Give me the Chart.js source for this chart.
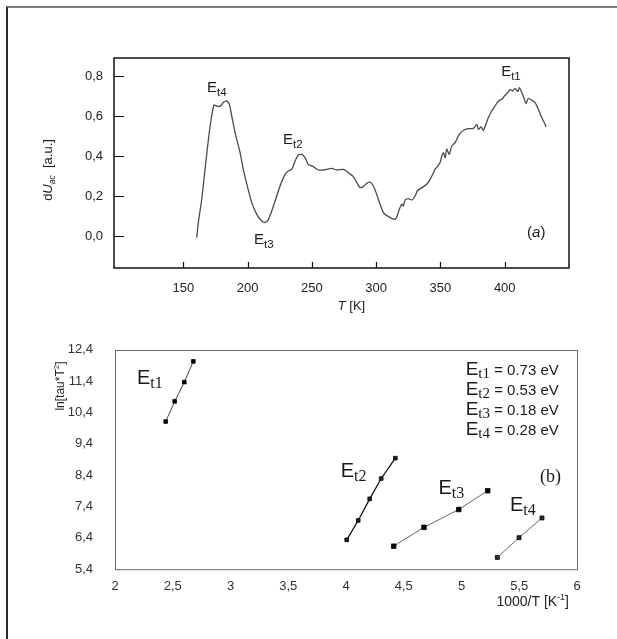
<!DOCTYPE html>
<html><head><meta charset="utf-8">
<script src="https://cdn.jsdelivr.net/npm/chart.js@4.4.1/dist/chart.umd.min.js"></script>
<style>
html,body{margin:0;padding:0;background:#fff;}
#wrap{position:relative;width:617px;height:639px;overflow:hidden;background:#fff;}
#frame{position:absolute;left:6px;top:6px;width:640px;height:660px;border-top:2px solid #7a7a7a;border-left:2px solid #2a2a2a;box-sizing:border-box;}
#ca{position:absolute;left:0;top:0;}
#cb{position:absolute;left:0;top:320px;}
</style></head>
<body><div id="wrap"><div id="frame"></div>
<canvas id="ca" width="617" height="320"></canvas>
<canvas id="cb" width="617" height="319"></canvas></div>
<script>
// ---------- (a) data ----------
const tempK = [160.4,161.6,164.2,166.8,169.4,172.0,173.8,175.9,178.5,181.1,183.7,185.7,187.6,190.2,194.1,196.6,199.7,203.2,207.1,210.9,213.5,216.1,218.7,222.6,225.2,229.1,231.6,234.3,236.9,239.4,242.1,244.6,247.2,251.1,255.0,258.9,265.4,269.3,274.4,278.3,282.2,284.9,287.4,290.0,292.7,295.2,297.8,300.4,303.0,305.6,309.5,314.7,316.5,318.0,319.9,321.1,322.5,325.0,327.7,330.2,332.0,335.5,339.3,341.9,344.0,345.8,347.6,349.7,351.0,352.3,353.6,354.9,356.9,358.8,361.4,363.9,365.8,368.4,371.7,375.6,378.3,379.5,381.6,383.4,385.3,387.3,389.9,392.5,395.1,397.7,399.7,402.4,404.2,406.0,408.1,410.2,411.4,413.3,415.3,416.6,418.4,421.1,423.6,426.2,428.8,431.4,432.2];
const dUac = [-0.008,0.067,0.18,0.33,0.48,0.60,0.655,0.65,0.648,0.667,0.675,0.66,0.60,0.517,0.417,0.333,0.25,0.167,0.108,0.075,0.067,0.083,0.125,0.20,0.25,0.308,0.325,0.333,0.375,0.405,0.408,0.392,0.358,0.347,0.33,0.33,0.338,0.33,0.333,0.317,0.297,0.267,0.242,0.247,0.263,0.27,0.25,0.208,0.158,0.117,0.097,0.0835,0.1035,0.1335,0.1585,0.15,0.18,0.187,0.18,0.20,0.225,0.242,0.2585,0.2835,0.3085,0.3335,0.347,0.367,0.40,0.417,0.392,0.4335,0.4085,0.45,0.467,0.50,0.517,0.53,0.537,0.5385,0.5585,0.5335,0.545,0.5285,0.5585,0.592,0.625,0.65,0.675,0.6835,0.70,0.717,0.7335,0.725,0.7385,0.722,0.742,0.717,0.6835,0.662,0.6885,0.6785,0.667,0.6335,0.592,0.5585,0.545];
const xTicksA = [150,200,250,300,350,400];
const yTicksA = [0,0.2,0.4,0.6,0.8];
const peakNamesA = ['t4','t2','t3','t1'];
const peakTA = [168.4,227.5,205,397.2];
const peakVA = [0.718,0.458,-0.042,0.80];

// ---------- (b) data ----------
const invT_Et1 = [2.439,2.517,2.600,2.678];
const ln_Et1   = [10.11,10.755,11.37,12.03];
const invT_Et2 = [4.006,4.106,4.205,4.305,4.427];
const ln_Et2   = [6.33,6.95,7.64,8.29,8.94];
const invT_Et3 = [4.413,4.675,4.976,5.227];
const ln_Et3   = [6.13,6.73,7.30,7.90];
const invT_Et4 = [5.310,5.498,5.697];
const ln_Et4   = [5.77,6.40,7.03];
const xTicksB = [2,2.5,3,3.5,4,4.5,5,5.5,6];
const yTicksB = [5.4,6.4,7.4,8.4,9.4,10.4,11.4,12.4];
const trapNames = ['t1','t2','t3','t4'];
const trapEnergies = [0.73,0.53,0.18,0.28];
const trapLabelX = [2.19,3.954,4.80,5.42];
const trapLabelY = [11.3,8.345,7.78,7.245];

const SANS = 'Liberation Sans';
const SERIF = 'Liberation Serif';
const comma = v => String(v).replace('.', ',');

function drawParts(ctx, parts, x, y, align) {
  let total = 0;
  parts.forEach(p => { ctx.font = p.font; p.w = ctx.measureText(p.t).width; total += p.w + (p.gap || 0); });
  let cx = align === 'center' ? x - total / 2 : align === 'right' ? x - total : x;
  ctx.textBaseline = 'alphabetic';
  ctx.textAlign = 'left';
  parts.forEach(p => { ctx.font = p.font; ctx.fillText(p.t, cx, y + (p.dy || 0)); cx += p.w + (p.gap || 0); });
}

// ---------- chart (a) ----------
const plugA = {
  id: 'plugA',
  afterDraw(chart) {
    const {ctx, chartArea: a, scales: {x, y}} = chart;
    ctx.save();
    ctx.strokeStyle = '#111';
    ctx.lineWidth = 1.5;
    ctx.strokeRect(a.left, a.top, a.right - a.left, a.bottom - a.top);
    ctx.lineWidth = 1.2;
    ctx.beginPath();
    xTicksA.forEach(v => { const px = Math.round(x.getPixelForValue(v)) + 0.5; ctx.moveTo(px, a.bottom); ctx.lineTo(px, a.bottom - 6); });
    yTicksA.forEach(v => { const py = Math.round(y.getPixelForValue(v)) + 0.5; ctx.moveTo(a.left, py); ctx.lineTo(a.left + 10, py); });
    ctx.stroke();
    ctx.fillStyle = '#1a1a1a';
    peakNamesA.forEach((n, i) => {
      drawParts(ctx, [{t: 'E', font: `15px "${SANS}"`}, {t: n, font: `11.5px "${SANS}"`, dy: 4}],
        x.getPixelForValue(peakTA[i]), y.getPixelForValue(peakVA[i]), 'left');
    });
    drawParts(ctx, [{t: '(', font: `15px "${SANS}"`}, {t: 'a', font: `italic 15px "${SANS}"`}, {t: ')', font: `15px "${SANS}"`}],
      x.getPixelForValue(417.4), y.getPixelForValue(-0.007), 'left');
    drawParts(ctx, [{t: 'T', font: `italic 13px "${SANS}"`}, {t: ' [K]', font: `13px "${SANS}"`}],
      (a.left + a.right) / 2 + 10, 310, 'center');
    ctx.translate(52, 170);
    ctx.rotate(-Math.PI / 2);
    drawParts(ctx, [{t: 'd', font: `13px "${SANS}"`}, {t: 'U', font: `italic 13px "${SANS}"`},
      {t: 'ac', font: `italic 8.5px "${SANS}"`, dy: 3}, {t: '  [a.u.]', font: `13px "${SANS}"`}], 0, 0, 'center');
    ctx.restore();
  }
};

new Chart(document.getElementById('ca'), {
  type: 'line',
  data: {datasets: [{data: tempK.map((t, i) => ({x: t, y: dUac[i]})), borderColor: '#4a4a4a', borderWidth: 1.3, pointRadius: 0, tension: 0.2, fill: false}]},
  options: {
    responsive: false, animation: false, devicePixelRatio: 1,
    layout: {padding: {left: 14, top: 58, right: 48, bottom: 0}},
    plugins: {legend: {display: false}, tooltip: {enabled: false}},
    scales: {
      x: {type: 'linear', min: 96, max: 450,
        afterBuildTicks: s => { s.ticks = xTicksA.map(v => ({value: v})); },
        afterFit: s => { s.height = 52; },
        grid: {display: false, drawTicks: false}, border: {display: false},
        ticks: {padding: 13, color: '#222', font: {family: SANS, size: 13}, maxRotation: 0, autoSkip: false, callback: v => String(v)}},
      y: {type: 'linear', min: -0.16, max: 0.89,
        afterBuildTicks: s => { s.ticks = yTicksA.map(v => ({value: v})); },
        afterFit: s => { s.width = 100; },
        grid: {display: false, drawTicks: false}, border: {display: false},
        ticks: {padding: 11, color: '#222', font: {family: SANS, size: 13}, callback: v => v.toFixed(1).replace('.', ',')}}
    }
  },
  plugins: [plugA]
});

// ---------- chart (b) ----------
const plugB = {
  id: 'plugB',
  afterDraw(chart) {
    const {ctx, chartArea: a, scales: {x, y}} = chart;
    ctx.save();
    ctx.strokeStyle = '#6a6a6a';
    ctx.lineWidth = 1;
    ctx.strokeRect(Math.round(a.left) + 0.5, Math.round(a.top) + 0.5, a.right - a.left, a.bottom - a.top);
    ctx.fillStyle = '#1a1a1a';
    trapNames.forEach((n, i) => {
      drawParts(ctx, [{t: 'E', font: `20px "${SANS}"`}, {t: n, font: `16px "${SERIF}"`, dy: 4}],
        x.getPixelForValue(trapLabelX[i]), y.getPixelForValue(trapLabelY[i]), 'left');
    });
    const ex = x.getPixelForValue(5.036);
    trapNames.forEach((n, i) => {
      drawParts(ctx, [{t: 'E', font: `19px "${SANS}"`}, {t: n, font: `15px "${SERIF}"`, dy: 3},
        {t: ' = ' + trapEnergies[i].toFixed(2) + ' eV', font: `15px "${SANS}"`}], ex, a.top + 25 + i * 20, 'left');
    });
    drawParts(ctx, [{t: '(b)', font: `18px "${SERIF}"`}], x.getPixelForValue(5.68), y.getPixelForValue(8.19), 'left');
    ctx.fillStyle = '#222';
    drawParts(ctx, [{t: '1000/T [K', font: `14px "${SANS}"`}, {t: '-1', font: `9px "${SANS}"`, dy: -6}, {t: ']', font: `14px "${SANS}"`}],
      a.right - 8, 286, 'right');
    ctx.translate(64, 66);
    ctx.rotate(-Math.PI / 2);
    drawParts(ctx, [{t: 'ln[tau*T', font: `12px "${SANS}"`}, {t: '2', font: `8px "${SANS}"`, dy: -5}, {t: ']', font: `12px "${SANS}"`}], 0, 0, 'center');
    ctx.restore();
  }
};

function series(xs, ys, color, pcolor, lw, r) {
  return {type: 'scatter', showLine: true, data: xs.map((v, i) => ({x: v, y: ys[i]})),
    borderColor: color, borderWidth: lw, pointStyle: 'rect', pointRadius: r,
    pointBackgroundColor: pcolor, pointBorderColor: '#000', pointBorderWidth: 0.8, tension: 0};
}

new Chart(document.getElementById('cb'), {
  type: 'scatter',
  data: {datasets: [
    series(invT_Et1, ln_Et1, '#444', '#000', 1, 2.6),
    series(invT_Et2, ln_Et2, '#111', '#222', 1.3, 2.6),
    series(invT_Et3, ln_Et3, '#666', '#000', 1, 3.2),
    series(invT_Et4, ln_Et4, '#666', '#1c2f55', 1, 2.8)
  ]},
  options: {
    responsive: false, animation: false, devicePixelRatio: 1,
    layout: {padding: {left: 15, top: 26, right: 40, bottom: 0}},
    plugins: {legend: {display: false}, tooltip: {enabled: false}},
    scales: {
      x: {type: 'linear', min: 2, max: 6,
        afterBuildTicks: s => { s.ticks = xTicksB.map(v => ({value: v})); },
        afterFit: s => { s.height = 70; },
        grid: {display: false, drawTicks: false}, border: {display: false},
        ticks: {padding: 10, color: '#333', font: {family: SANS, size: 13}, maxRotation: 0, autoSkip: false, callback: v => comma(v)}},
      y: {type: 'linear', min: 5.4, max: 12.4,
        afterBuildTicks: s => { s.ticks = yTicksB.map(v => ({value: v})); },
        afterFit: s => { s.width = 100; },
        grid: {display: false, drawTicks: false}, border: {display: false},
        ticks: {padding: 22, color: '#333', font: {family: SANS, size: 13}, callback: v => comma(v)}}
    }
  },
  plugins: [plugB]
});
</script>
</body></html>
